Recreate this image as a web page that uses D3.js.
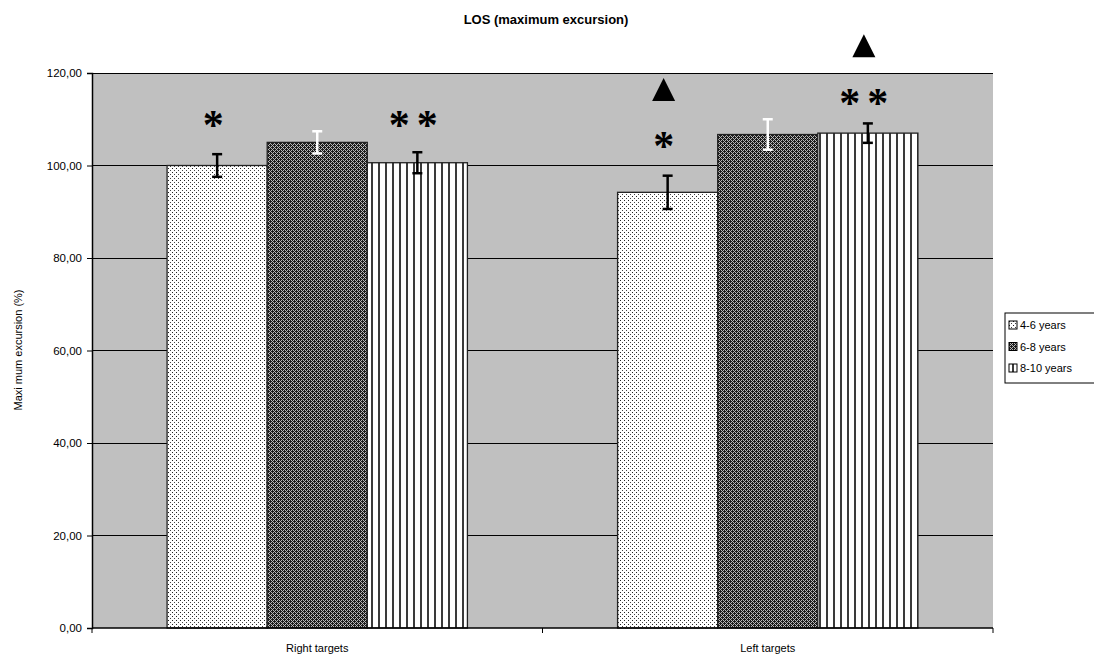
<!DOCTYPE html>
<html><head><meta charset="utf-8">
<script src="https://cdn.jsdelivr.net/npm/d3@7"></script>
<style>body{margin:0;background:#fff}svg{display:block;font-family:"Liberation Sans",Arial,sans-serif}</style>
</head><body><svg id="c" width="1094" height="659"></svg>
<script>
const categories = ["Right targets", "Left targets"];
const seriesNames = ["4-6 years", "6-8 years", "8-10 years"];
const means = {
  "4-6 years": [100.0, 94.2],
  "6-8 years": [105.0, 106.7],
  "8-10 years": [100.6, 107.0]
};
const errors = {
  "4-6 years": [2.45, 3.6],
  "6-8 years": [2.4, 3.3],
  "8-10 years": [2.27, 2.1]
};
const yTicks = [0, 20, 40, 60, 80, 100, 120];
const annotations = [
  {cat: "Right targets", series: "4-6 years", y: 110.0, mark: "*"},
  {cat: "Right targets", series: "8-10 years", y: 110.0, mark: "* *"},
  {cat: "Left targets", series: "4-6 years", y: 116.3, mark: "tri"},
  {cat: "Left targets", series: "4-6 years", y: 105.5, mark: "*"},
  {cat: "Left targets", series: "8-10 years", y: 114.8, mark: "* *"},
  {cat: "Left targets", series: "8-10 years", y: 125.8, mark: "tri"}
];

const svg = d3.select("#c");
const m = {l: 92, t: 73, r: 993, b: 628};
const x0 = d3.scaleBand().domain(categories).range([m.l, m.r]).paddingInner(0).paddingOuter(0);
const x1 = d3.scaleBand().domain(seriesNames).range([0, x0.bandwidth()]).paddingInner(0).paddingOuter(0.75);
const y = d3.scaleLinear().domain([0, 120]).range([m.b, m.t]);

// patterns
const defs = svg.append("defs");
const p1 = defs.append("pattern").attr("id", "p0").attr("width", 4).attr("height", 4).attr("patternUnits", "userSpaceOnUse");
p1.append("rect").attr("width", 4).attr("height", 4).attr("fill", "#fff");
p1.append("rect").attr("x", 0).attr("y", 0).attr("width", 1).attr("height", 1).attr("fill", "#222");
p1.append("rect").attr("x", 2).attr("y", 2).attr("width", 1).attr("height", 1).attr("fill", "#444");
const p2 = defs.append("pattern").attr("id", "p1").attr("width", 4).attr("height", 4).attr("patternUnits", "userSpaceOnUse");
p2.append("rect").attr("width", 4).attr("height", 4).attr("fill", "#1c1c1c");
[[0,1],[1,0],[2,3],[3,2],[1,2],[3,0]].forEach(([a,b]) => p2.append("rect").attr("x", a).attr("y", b).attr("width", 1).attr("height", 1).attr("fill", "#b8b8b8"));
const p3 = defs.append("pattern").attr("id", "p2").attr("width", 7).attr("height", 4).attr("patternUnits", "userSpaceOnUse");
p3.append("rect").attr("width", 7).attr("height", 4).attr("fill", "#fff");
p3.append("rect").attr("x", 0).attr("width", 2).attr("height", 4).attr("fill", "#3a3a3a");
const fills = {"4-6 years": "url(#p0)", "6-8 years": "url(#p1)", "8-10 years": "url(#p2)"};
const errColor = {"4-6 years": "#000", "6-8 years": "#fff", "8-10 years": "#000"};

// plot background
svg.append("rect").attr("x", m.l).attr("y", m.t).attr("width", m.r - m.l).attr("height", m.b - m.t).attr("fill", "#c0c0c0");

// gridlines
svg.append("g").selectAll("line").data(yTicks.filter(d => d > 0)).join("line")
  .attr("x1", m.l).attr("x2", m.r).attr("y1", d => y(d)).attr("y2", d => y(d))
  .attr("stroke", "#000").attr("stroke-width", 1).attr("shape-rendering", "crispEdges");

// bars
const rows = [];
categories.forEach((c, i) => seriesNames.forEach(s => rows.push({cat: c, s, v: means[s][i], e: errors[s][i]})));
svg.append("g").selectAll("rect").data(rows).join("rect")
  .attr("x", d => x0(d.cat) + x1(d.s))
  .attr("y", d => y(d.v))
  .attr("width", x1.bandwidth())
  .attr("height", d => y(0) - y(d.v))
  .attr("fill", d => fills[d.s])
  .attr("stroke", "#222").attr("stroke-width", 1.3);

// error bars
const eg = svg.append("g").selectAll("g").data(rows).join("g")
  .attr("stroke", d => errColor[d.s]).attr("stroke-width", 2.5);
const cx = d => x0(d.cat) + x1(d.s) + x1.bandwidth() / 2;
eg.append("line").attr("x1", cx).attr("x2", cx).attr("y1", d => y(d.v + d.e)).attr("y2", d => y(d.v - d.e));
eg.append("line").attr("x1", d => cx(d) - 5).attr("x2", d => cx(d) + 5).attr("y1", d => y(d.v + d.e)).attr("y2", d => y(d.v + d.e));
eg.append("line").attr("x1", d => cx(d) - 5).attr("x2", d => cx(d) + 5).attr("y1", d => y(d.v - d.e)).attr("y2", d => y(d.v - d.e));

// axes
const yAxis = d3.axisLeft(y).tickValues(yTicks).tickSize(5).tickPadding(5).tickFormat(d => d3.format(".2f")(d).replace(".", ","));
const ya = svg.append("g").attr("transform", `translate(${m.l},0)`).call(yAxis);
ya.select(".domain").attr("stroke", "#000").attr("stroke-width", 1.5);
ya.selectAll("text").attr("font-size", 11.5).attr("fill", "#000").attr("font-family", "Liberation Sans, Arial, sans-serif");

const xa = svg.append("g").attr("transform", `translate(0,${m.b})`);
xa.append("line").attr("x1", m.l).attr("x2", m.r).attr("stroke", "#000").attr("stroke-width", 1.5);
xa.selectAll(".tk").data([m.l, x0(categories[1]), m.r]).join("line").attr("class", "tk")
  .attr("x1", d => d).attr("x2", d => d).attr("y1", 0).attr("y2", 5).attr("stroke", "#000");
xa.selectAll("text").data(categories).join("text")
  .attr("x", d => x0(d) + x0.bandwidth() / 2).attr("y", 24)
  .attr("text-anchor", "middle").attr("font-size", 11).text(d => d);

// annotations
const ag = svg.append("g");
annotations.forEach(a => {
  const ax = x0(a.cat) + x1(a.series) + x1.bandwidth() / 2 - 4;
  const ay = y(a.y);
  if (a.mark === "tri") {
    ag.append("path").attr("d", `M${ax},${ay - 12}L${ax + 11.5},${ay + 11}L${ax - 11.5},${ay + 11}Z`).attr("fill", "#000");
  } else {
    const parts = a.mark === "*" ? [0] : [-14, 14];
    parts.forEach(dx => {
      ag.append("text").attr("x", ax + dx).attr("y", ay + 20).attr("text-anchor", "middle")
        .attr("font-size", 42).attr("font-weight", "bold").attr("font-family", "Liberation Serif, serif").text("*");
    });
  }
});

// title
svg.append("text").attr("x", 546).attr("y", 24).attr("text-anchor", "middle")
  .attr("font-size", 13).attr("font-weight", "bold").text("LOS (maximum excursion)");

// y label
svg.append("text").attr("transform", `translate(22,350) rotate(-90)`).attr("text-anchor", "middle")
  .attr("font-size", 11).text("Maxi mum excursion (%)");

// legend
const lg = svg.append("g").attr("transform", "translate(1005,313)");
lg.append("rect").attr("width", 96).attr("height", 70).attr("fill", "#fff").attr("stroke", "#000").attr("stroke-width", 1);
seriesNames.forEach((s, i) => {
  const yy = 12 + i * 21.5;
  lg.append("rect").attr("x", 4).attr("y", yy - 4).attr("width", 8).attr("height", 8).attr("fill", fills[s]).attr("stroke", "#000");
  lg.append("text").attr("x", 15).attr("y", yy + 4).attr("font-size", 11).text(s);
});
</script></body></html>
